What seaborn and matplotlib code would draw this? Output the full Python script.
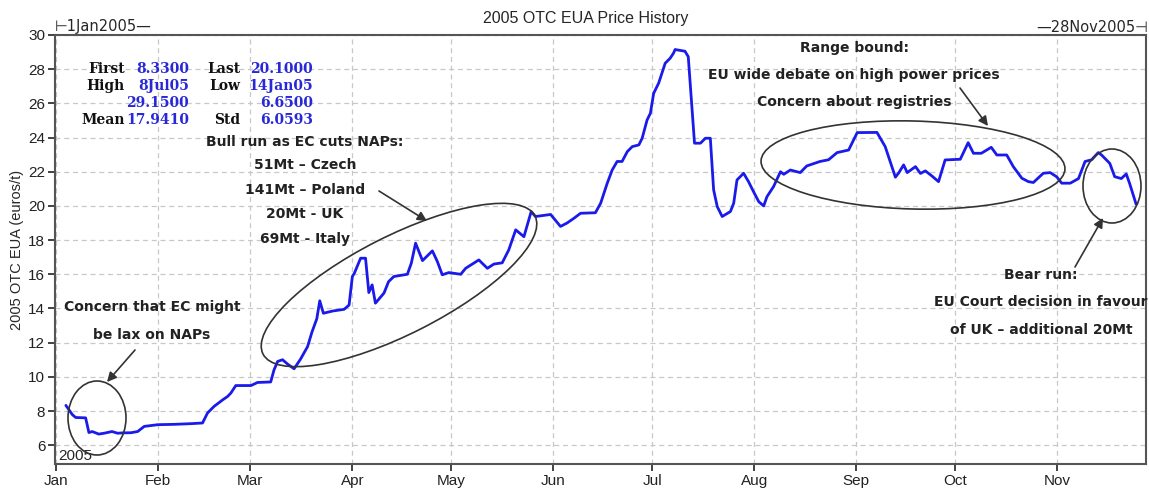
import matplotlib
matplotlib.use("Agg")
import matplotlib.pyplot as plt
from matplotlib.patches import Ellipse
from matplotlib.transforms import IdentityTransform
import seaborn as sns
import pandas as pd

# ---------------- data ----------------
day_offset = [3, 5, 6, 9, 10, 11, 13, 14.6, 17, 18.7,
              20.2, 22.8, 24.8, 26.8, 30.9, 35.8, 41, 44.5, 46, 48,
              50.6, 52.1, 53.1, 54.6, 59.2, 61.2, 65.2, 66.2, 67.3, 68.8,
              70.3, 72.3, 74.3, 76.4, 77.7, 79.2, 80.1, 81.2, 84, 87.5,
              89, 90, 90.6, 92.5, 94, 95, 96, 97, 99.6, 101,
              102.6, 106.7, 107.9, 109.2, 111.3, 114.3, 115.8, 117.3, 119.3, 122.9,
              124.4, 128.4, 131, 133, 135.5, 137.5, 139.6, 142.1, 143.6, 144.3,
              145.6, 150.2, 153.2, 155.2, 157.3, 159.3, 163.8, 165.4, 167.4, 168.9,
              170.4, 171.9, 173.5, 175, 177, 178, 179.5, 180.5, 181.5, 183,
              185, 186.5, 187.5, 188, 191, 192, 193.9, 195.7, 197.2, 198.7,
              199.7, 200.8, 202.3, 204.8, 205.8, 206.8, 208.8, 210.3, 211.8, 213.4,
              214.9, 215.9, 217.9, 220, 221, 223, 226, 228, 232, 234.6,
              237.2, 240.7, 243.3, 249.3, 251.8, 254.9, 255.9, 257.4, 258.5, 261,
              262.5, 264, 266, 268, 270, 274.6, 277, 278.6, 281, 284,
              285.7, 288.7, 290.7, 293.3, 295.3, 296.8, 299.8, 301.9, 303.9, 305.4,
              308, 310.5, 312.5, 314.5, 316.5, 317.5, 320, 321.5, 323.5, 325,
              326, 328]
price = [8.33, 7.78, 7.62, 7.60, 6.74, 6.80, 6.65, 6.70, 6.80, 6.70,
         6.72, 6.73, 6.80, 7.10, 7.20, 7.22, 7.26, 7.30, 7.88, 8.27,
         8.65, 8.85, 9.05, 9.49, 9.49, 9.67, 9.70, 10.40, 10.90, 11.00,
         10.75, 10.47, 11.05, 11.77, 12.60, 13.40, 14.45, 13.72, 13.85, 13.95,
         14.20, 15.87, 16.06, 16.94, 16.94, 14.93, 15.38, 14.31, 14.90, 15.57,
         15.87, 16.00, 16.65, 17.82, 16.80, 17.37, 16.75, 15.97, 16.10, 16.00,
         16.35, 16.84, 16.35, 16.60, 16.67, 17.43, 18.60, 18.20, 19.20, 19.67,
         19.38, 19.50, 18.80, 19.00, 19.28, 19.57, 19.60, 20.16, 21.33, 22.10,
         22.60, 22.60, 23.18, 23.47, 23.57, 23.96, 25.03, 25.42, 26.59, 27.18,
         28.35, 28.64, 28.93, 29.15, 29.05, 28.73, 23.67, 23.67, 23.96, 23.96,
         20.94, 19.96, 19.38, 19.67, 20.16, 21.52, 21.91, 21.42, 20.84, 20.25,
         20.00, 20.54, 21.13, 22.00, 21.85, 22.10, 21.95, 22.34, 22.60, 22.70,
         23.12, 23.27, 24.29, 24.30, 23.47, 21.68, 21.93, 22.40, 21.95, 22.30,
         21.90, 22.05, 21.75, 21.42, 22.69, 22.73, 23.70, 23.08, 23.08, 23.43,
         22.98, 22.98, 22.30, 21.62, 21.42, 21.37, 21.91, 21.95, 21.70, 21.33,
         21.33, 21.60, 22.60, 22.70, 23.12, 22.98, 22.49, 21.71, 21.60, 21.87,
         21.33, 20.10]

month_labels = ["Jan", "Feb", "Mar", "Apr", "May", "Jun", "Jul", "Aug", "Sep", "Oct", "Nov"]
y_ticks = [6, 8, 10, 12, 14, 16, 18, 20, 22, 24, 26, 28, 30]

stat_labels_left = ["First", "High", "", "Mean"]
stat_values_left = ["8.3300", "8Jul05", "29.1500", "17.9410"]
stat_labels_right = ["Last", "Low", "", "Std"]
stat_values_right = ["20.1000", "14Jan05", "6.6500", "6.0593"]

title = "2005 OTC EUA Price History"
y_label = "2005 OTC EUA (euros/t)"

# ---------------- figure ----------------
W, H = 1149, 488
sns.set_style("ticks")
plt.rcParams["font.family"] = ["Liberation Sans", "DejaVu Sans"]

fig = plt.figure(figsize=(W / 100, H / 100), dpi=100)
ax = fig.add_axes([55 / W, 1 - 464 / H, (1146 - 55) / W, (464 - 35) / H])

start = pd.Timestamp("2005-01-01")
df = pd.DataFrame({
    "date": start + pd.to_timedelta(day_offset, unit="D"),
    "price": price,
})
sns.lineplot(data=df, x="date", y="price", ax=ax, color="#1a1aeb",
             linewidth=2.0, estimator=None, sort=False)

ax.set_xlim(start - pd.Timedelta(days=0.3), pd.Timestamp("2005-11-28"))
ax.set_ylim(4.9, 30)
month_ticks = pd.date_range("2005-01-01", periods=len(month_labels), freq="MS")
ax.set_xticks(month_ticks)
ax.set_xticklabels(month_labels)
ax.set_yticks(y_ticks)
ax.tick_params(axis="both", labelsize=11, length=5, width=1.2, colors="#222222",
               direction="out", pad=2)
ax.set_xlabel("")
ax.set_ylabel(y_label, fontsize=10.5, labelpad=3)
ax.grid(True, linestyle=(0, (4, 3)), color="#c8c8c8", linewidth=0.9)
for s in ax.spines.values():
    s.set_visible(True)
    s.set_color("#555555")
    s.set_linewidth(1.5)


def fx(px):
    return px / W


def fy(py):
    return 1 - py / H


# title & range labels
fig.text(fx(586), fy(19), title, ha="center", va="center", fontsize=11.5)
fig.text(fx(55), fy(27), "\u22a21Jan2005\u2014", ha="left", va="center", fontsize=10.5,
         family=["DejaVu Sans"])
fig.text(fx(1148), fy(27), "\u201428Nov2005\u22a3", ha="right", va="center", fontsize=10.5,
         family=["DejaVu Sans"])
fig.text(fx(58), fy(456), "2005", ha="left", va="center", fontsize=11)

# stats block
rows_y = [69, 86, 103, 120]
serif = ["DejaVu Serif"]
for i, yy in enumerate(rows_y):
    fig.text(fx(125), fy(yy), stat_labels_left[i], ha="right", va="center",
             fontsize=10, fontweight="bold", family=serif, color="#111111")
    fig.text(fx(189), fy(yy), stat_values_left[i], ha="right", va="center",
             fontsize=10, fontweight="bold", family=serif, color="#2828d8")
    fig.text(fx(240), fy(yy), stat_labels_right[i], ha="right", va="center",
             fontsize=10, fontweight="bold", family=serif, color="#111111")
    fig.text(fx(313), fy(yy), stat_values_right[i], ha="right", va="center",
             fontsize=10, fontweight="bold", family=serif, color="#2828d8")

# annotation texts
ann_kw = dict(ha="center", va="center", fontsize=10, fontweight="bold",
              family=["DejaVu Sans"], color="#222222")
fig.text(fx(152), fy(307), "Concern that EC might", **ann_kw)
fig.text(fx(152), fy(335), "be lax on NAPs", **ann_kw)

bull = ["Bull run as EC cuts NAPs:", "51Mt \u2013 Czech", "141Mt \u2013 Poland",
        "20Mt - UK", "69Mt - Italy"]
for t, yy in zip(bull, [142, 165, 190, 214, 239]):
    fig.text(fx(305), fy(yy), t, **ann_kw)

rng = ["Range bound:", "EU wide debate on high power prices", "Concern about registries"]
for t, yy in zip(rng, [48, 75, 102]):
    fig.text(fx(854), fy(yy), t, **ann_kw)

bear = ["Bear run:", "EU Court decision in favour", "of UK \u2013 additional 20Mt"]
for t, yy in zip(bear, [275, 302, 330]):
    fig.text(fx(1041), fy(yy), t, **ann_kw)

# ellipses (pixel coords)
ell_specs = [  # cx, cy, w, h, angle
    (97, 418, 58, 74, 0),
    (399, 285, 305, 98, 26.9),
    (913, 165, 304, 88, -1.5),
    (1112, 186, 58, 74, 0),
]
for cx, cy, w, h, ang in ell_specs:
    e = Ellipse((cx, H - cy), w, h, angle=ang, fill=False, edgecolor="#333333",
                linewidth=1.2, transform=IdentityTransform(), zorder=5)
    fig.add_artist(e)

# arrows (pixel coords)
arrows = [
    ((135, 350), (107, 382)),
    ((379, 191), (427, 221)),
    ((960, 88), (988, 126)),
    ((1075, 267), (1103, 218)),
]
for (x0, y0), (x1, y1) in arrows:
    ax.annotate("", xy=(x1, H - y1), xytext=(x0, H - y0),
                xycoords="figure pixels", textcoords="figure pixels",
                arrowprops=dict(arrowstyle="-|>", color="#333333", lw=1.2,
                                mutation_scale=14, shrinkA=0, shrinkB=0))

fig.savefig("out.png", dpi=100)
